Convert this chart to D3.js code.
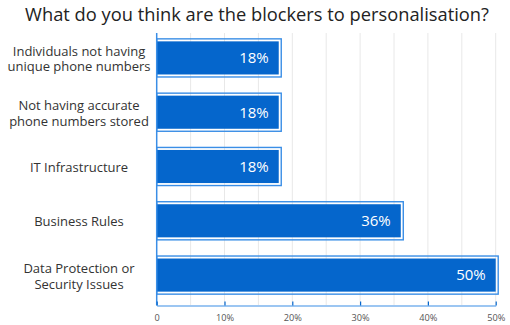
<!DOCTYPE html>
<html><head><meta charset="utf-8">
<script src="https://cdn.jsdelivr.net/npm/d3@7"></script>
<style>body{margin:0;background:#fff}svg{display:block}</style>
</head><body><svg id="c" width="510" height="325"></svg>
<script>
const title = "What do you think are the blockers to personalisation?";
const categories = [
  ["Individuals not having", "unique phone numbers"],
  ["Not having accurate", "phone numbers stored"],
  ["IT Infrastructure"],
  ["Business Rules"],
  ["Data Protection or", "Security Issues"]
];
const values = [18, 18, 18, 36, 50];
const tickValues = [0, 10, 20, 30, 40, 50];
const tickLabels = ["0", "10%", "20%", "30%", "40%", "50%"];
const gridValues = [5, 10, 15, 20, 25, 30, 35, 40, 45, 50];

const svg = d3.select("#c");
const FONT = "'Open Sans', sans-serif";
const x = d3.scaleLinear().domain([0, 50]).range([156.7, 495.7]);
const y = d3.scaleBand().domain(d3.range(values.length)).range([30.5, 302.5]).paddingInner(0.39).paddingOuter(0.2);

svg.append("text").attr("x", 257).attr("y", 21).attr("text-anchor", "middle")
  .attr("font-family", FONT).attr("font-size", 18.3).attr("fill", "#222").text(title);

// gridlines
svg.append("g").selectAll("line").data(gridValues).join("line")
  .attr("x1", d => x(d)).attr("x2", d => x(d)).attr("y1", 33).attr("y2", 305)
  .attr("stroke", "#e8e8e8").attr("stroke-width", 1);

// bars
const bars = svg.append("g").selectAll("g").data(values).join("g");
bars.append("rect")
  .attr("x", x(0)).attr("y", (d, i) => y(i) - 2.5)
  .attr("width", d => x(d) - x(0) + 2.5).attr("height", y.bandwidth() + 5)
  .attr("fill", "none").attr("stroke", "#3a8ee6").attr("stroke-width", 1.4);
bars.append("rect")
  .attr("x", x(0)).attr("y", (d, i) => y(i))
  .attr("width", d => x(d) - x(0)).attr("height", y.bandwidth())
  .attr("fill", "#0566cc");
bars.append("text")
  .attr("x", d => x(d) - 10).attr("y", (d, i) => y(i) + y.bandwidth() / 2)
  .attr("dy", "0.36em").attr("text-anchor", "end")
  .attr("font-family", FONT).attr("font-size", 15).attr("fill", "#fff")
  .text(d => d + "%");

// category labels
const cl = svg.append("g").selectAll("text").data(categories).join("text")
  .attr("text-anchor", "middle").attr("font-family", FONT).attr("font-size", 13).attr("fill", "#333");
cl.each(function (lines, i) {
  const cy = y(i) + y.bandwidth() / 2 + 1;
  const lh = 15.5;
  const start = cy - (lines.length - 1) * lh / 2;
  d3.select(this).selectAll("tspan").data(lines).join("tspan")
    .attr("x", 79).attr("y", (l, j) => start + j * lh).attr("dy", "0.36em").text(l => l);
});

// axes
svg.append("line").attr("x1", x(0)).attr("x2", x(0)).attr("y1", 33).attr("y2", 305.5)
  .attr("stroke", "#3a8ee6").attr("stroke-width", 1.5);
const ax = d3.axisBottom(x).tickValues(tickValues).tickFormat((d, i) => tickLabels[i]).tickSize(0).tickPadding(9);
const g = svg.append("g").attr("transform", "translate(0,305.5)").call(ax);
g.select(".domain").attr("stroke", "#3a8ee6").attr("stroke-width", 1.2);
g.selectAll(".tick text").attr("font-family", FONT).attr("font-size", 9.2).attr("fill", "#555");
g.selectAll(".tick").append("line").attr("y1", -4).attr("y2", 0).attr("stroke", "#0566cc").attr("stroke-width", 1.2);
</script></body></html>
